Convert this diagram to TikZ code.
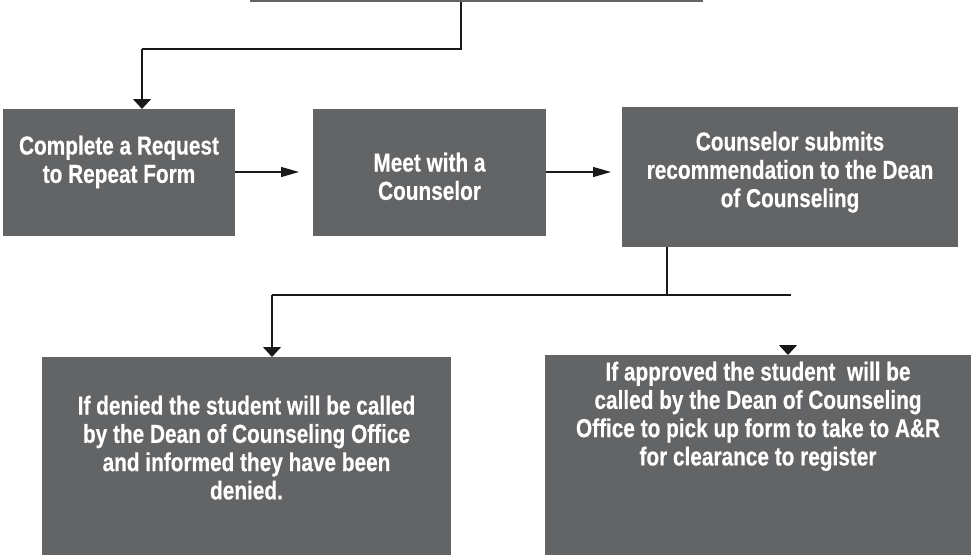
\documentclass[tikz,border=0pt]{standalone}
\usepackage{fontspec}
\setmainfont{Liberation Sans}[FakeStretch=0.8, BoldFeatures={FakeBold=0.4}]
\usetikzlibrary{arrows.meta}
\definecolor{boxgrey}{RGB}{99,100,102}
\definecolor{linec}{RGB}{25,25,25}
\tikzset{
  box/.style={fill=boxgrey, draw=none, inner sep=0pt, outer sep=0pt},
  txt/.style={text=white, font=\bfseries\fontsize{26}{28.3}\selectfont, align=center, inner sep=0pt, anchor=north},
  conn/.style={draw=linec, line width=1.3pt},
  darr/.style={conn, -{Triangle[width=18pt,length=10pt]}},
  harr/.style={conn, -{Triangle[width=10pt,length=18pt]}},
}
\begin{document}
\begin{tikzpicture}[x=1pt,y=-1pt]
\useasboundingbox (0,0) rectangle (971,554);
\clip (0,0) rectangle (971,554);
\fill[white] (0,0) rectangle (971,554);
% boxes
\node[box, minimum width=453pt, minimum height=60pt] (top) at (476.5,-28) {};
\node[box, minimum width=232pt, minimum height=127pt] (b1) at (119,172.5) {};
\node[box, minimum width=233pt, minimum height=127pt] (b2) at (429.5,172.5) {};
\node[box, minimum width=336pt, minimum height=140pt] (b3) at (790,177) {};
\node[box, minimum width=409pt, minimum height=199pt] (b4) at (246.5,456.5) {};
\node[box, minimum width=426pt, minimum height=201pt] (b5) at (758,455.5) {};
% texts
\node[txt] (t1) at (119,135.5) {Complete a Request\\to Repeat Form};
\node[txt] (t2) at (429.5,152.5) {Meet with a\\Counselor};
\node[txt] (t3) at (790,131.5) {Counselor submits\\recommendation to the Dean\\of Counseling};
\node[txt] (t4) at (246.5,395.5) {If denied the student will be called\\by the Dean of Counseling Office\\and informed they have been\\denied.};
\node[txt] (t5) at (758,361.5) {If approved the student~ will be\\called by the Dean of Counseling\\Office to pick up form to take to A\&R\\for clearance to register};
% connector coordinates
\coordinate (c1) at (461,49);
\coordinate (c2) at (142,49);
\coordinate (a1) at (299,172);
\coordinate (a2) at (611,172);
\coordinate (c3) at (667,295);
\coordinate (c4) at (272,295);
\coordinate (c5) at (791,295);
\coordinate (c6) at (788,345);
% connectors
\draw[conn] (top.south -| c1) -- (c1) -- (c2);
\draw[darr] (c2) -- (c2 |- b1.north);
\draw[harr] (b1.east |- a1) -- (a1);
\draw[harr] (b2.east |- a2) -- (a2);
\draw[conn] (b3.south -| c3) -- (c3);
\draw[conn] (c4) -- (c5);
\draw[darr] (c4) -- (c4 |- b4.north);
\draw[darr] (c6) -- (c6 |- b5.north);
\end{tikzpicture}
\end{document}
